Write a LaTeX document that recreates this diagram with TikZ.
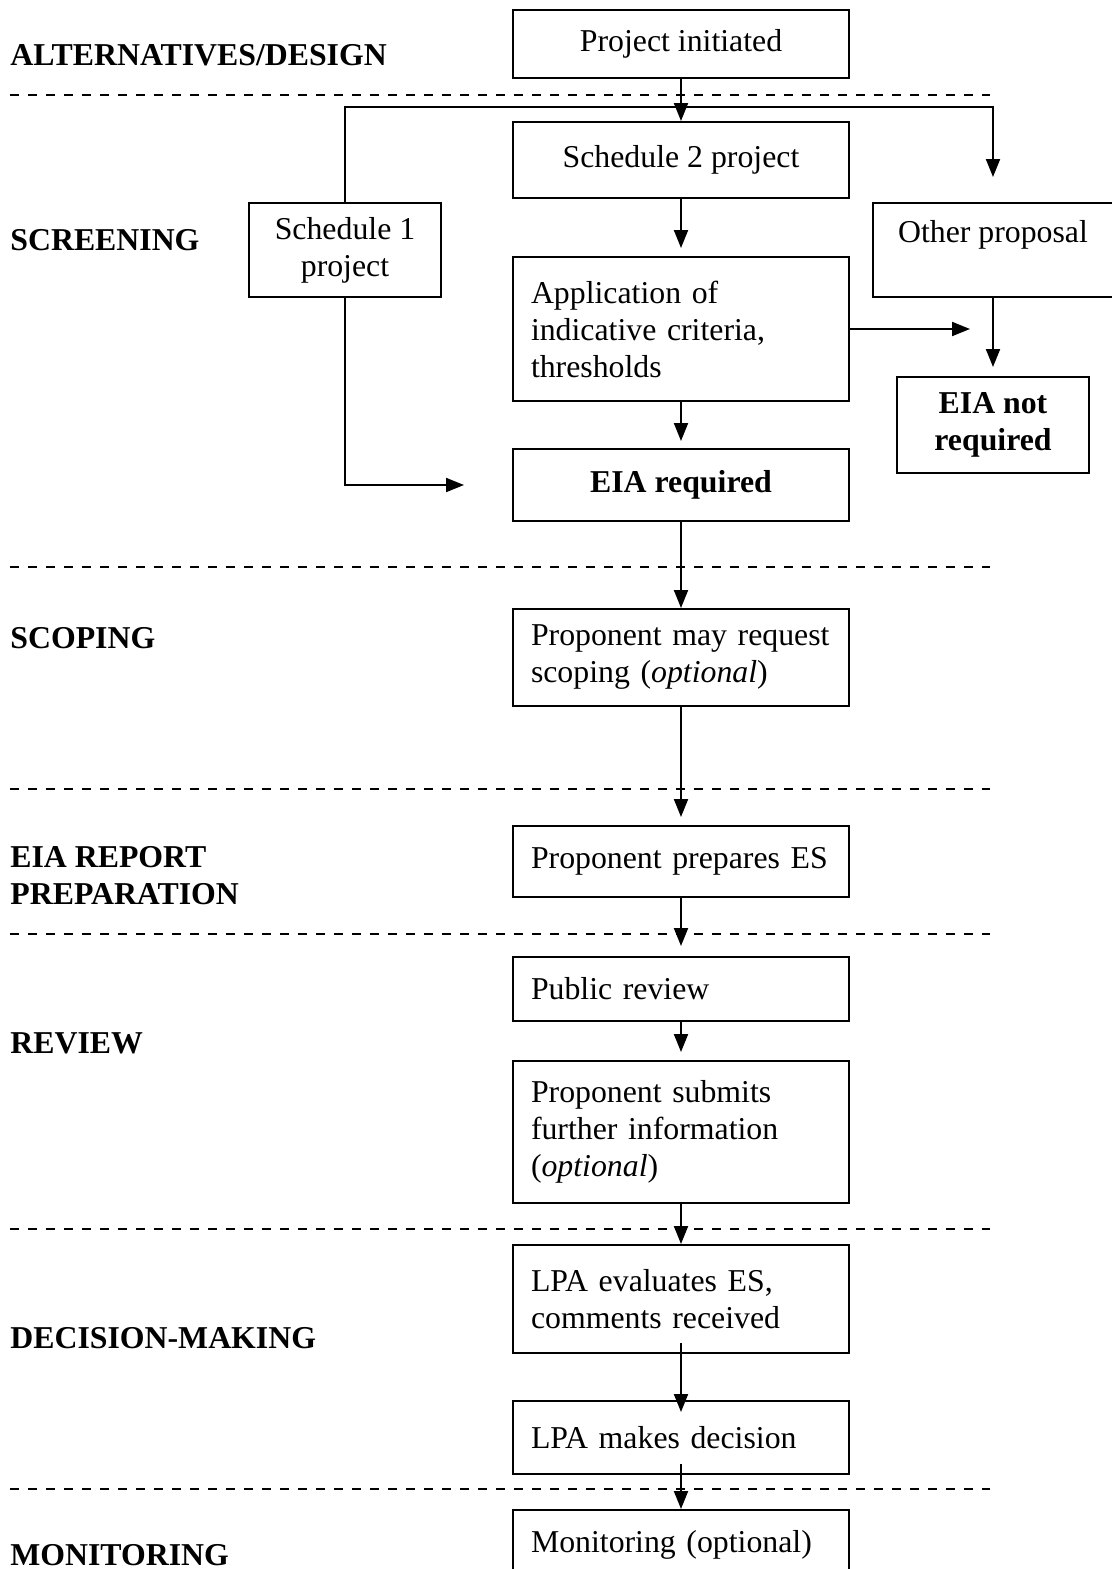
\documentclass[tikz,border=0pt]{standalone}
\usepackage{fontspec}
\setmainfont{Liberation Serif}
\usetikzlibrary{arrows.meta}

\newcommand\boxfont{\fontsize{15.9}{18.5}\selectfont}

\tikzset{
  stagebox/.style={draw, rectangle, line width=1pt, minimum width=168pt, inner sep=0pt, align=center, font=\boxfont},
  leftbox/.style={stagebox, text width=150pt, inner xsep=9pt, align=left,
      execute at begin node={\hyphenpenalty=10000\exhyphenpenalty=10000}},
  phase/.style={anchor=west, align=left, inner sep=0pt, font=\boxfont\bfseries},
  flow/.style={-{Triangle[length=9pt,width=7pt]}, line width=1pt},
  divider/.style={dash pattern=on 4.5pt off 4.5pt, line width=1pt}
}

\begin{document}
\begin{tikzpicture}[x=0.5pt, y=-0.5pt]
    \useasboundingbox (0,0) rectangle (1112,1569);
    \clip (0,0) rectangle (1112,1569);

    % phase labels
    \node[phase] (alt) at (10,55) {ALTERNATIVES/DESIGN};
    \node[phase] (scr) at (10,240) {SCREENING};
    \node[phase] (scp) at (10,638) {SCOPING};
    \node[phase] (rep) at (10,876) {EIA REPORT\\PREPARATION};
    \node[phase] (rev) at (10,1043) {REVIEW};
    \node[phase] (dec) at (10,1338) {DECISION-MAKING};
    \node[phase] (mon) at (10,1555) {MONITORING};

    % dashed dividers between phases
    \foreach \y in {95,567,789,934,1229,1489}
        \draw[divider] (10,\y) -- (990,\y);

    % screening boxes
    \node[stagebox, minimum height=34pt] (init) at (681,44) {Project initiated};
    \node[stagebox, minimum height=38pt] (sch2) at (681,160) {Schedule 2 project};
    \node[stagebox, minimum width=96pt, minimum height=47pt] (sch1) at (345,250) {Schedule 1\\project};
    \node[stagebox, minimum width=120pt, minimum height=47pt] (other) at (993,250) {Other proposal\\\mbox{}};
    \node[leftbox, minimum height=72pt] (app) at (681,329) {Application of\\indicative criteria,\\thresholds};
    \node[stagebox, minimum width=96pt, minimum height=48pt, font=\boxfont\bfseries] (notreq) at (993,425) {EIA not\\required};
    \node[stagebox, minimum height=36pt, font=\boxfont\bfseries] (req) at (681,485) {EIA required};

    % later stages
    \node[leftbox, minimum height=48.5pt] (scope) at (681,657.5) {Proponent may request\\scoping (\textit{optional})};
    \node[leftbox, minimum height=35.5pt] (prep) at (681,861.5) {Proponent prepares ES};
    \node[leftbox, minimum height=32pt] (pubrev) at (681,989) {Public review};
    \node[leftbox, minimum height=71pt] (submit) at (681,1132) {Proponent submits\\further information\\(\textit{optional})};
    \node[leftbox, minimum height=54pt] (evaluate) at (681,1299) {LPA evaluates ES,\\comments received};
    \node[leftbox, minimum height=36.5pt] (decide) at (681,1437.5) {LPA makes decision};
    \node[leftbox, minimum height=35pt] (monitor) at (681,1545) {Monitoring (optional)};

    % fork line under the first divider
    \coordinate (fork) at (681,107);
    \coordinate (appout) at (970,329);

    % connectors
    \draw[flow] (init.south) -- (sch2.north);
    \draw[flow, shorten >=12.5pt] (sch1.north) |- (other.north |- fork) -- (other.north);
    \draw[flow, shorten >=4pt] (sch2.south) -- (app.north);
    \draw[flow] (app.east) -- (appout);
    \draw[flow, shorten >=4.5pt] (other.south) -- (notreq.north);
    \draw[flow, shorten >=3.5pt] (app.south) -- (req.north);
    \draw[flow, shorten >=24pt] (sch1.south) |- (req.west);
    \draw[flow] (req.south) -- (scope.north);
    \draw[flow, shorten >=4pt] (scope.south) -- (prep.north);
    \draw[flow, shorten >=5pt] (prep.south) -- (pubrev.north);
    \draw[flow, shorten >=4pt] (pubrev.south) -- (submit.north);
    \draw[flow] (submit.south) -- (evaluate.north);
    \draw[flow, shorten <=-5.5pt, shorten >=-6pt] (evaluate.south) -- (decide.north);
    \draw[flow, shorten <=-5.5pt] (decide.south) -- (monitor.north);
\end{tikzpicture}
\end{document}
